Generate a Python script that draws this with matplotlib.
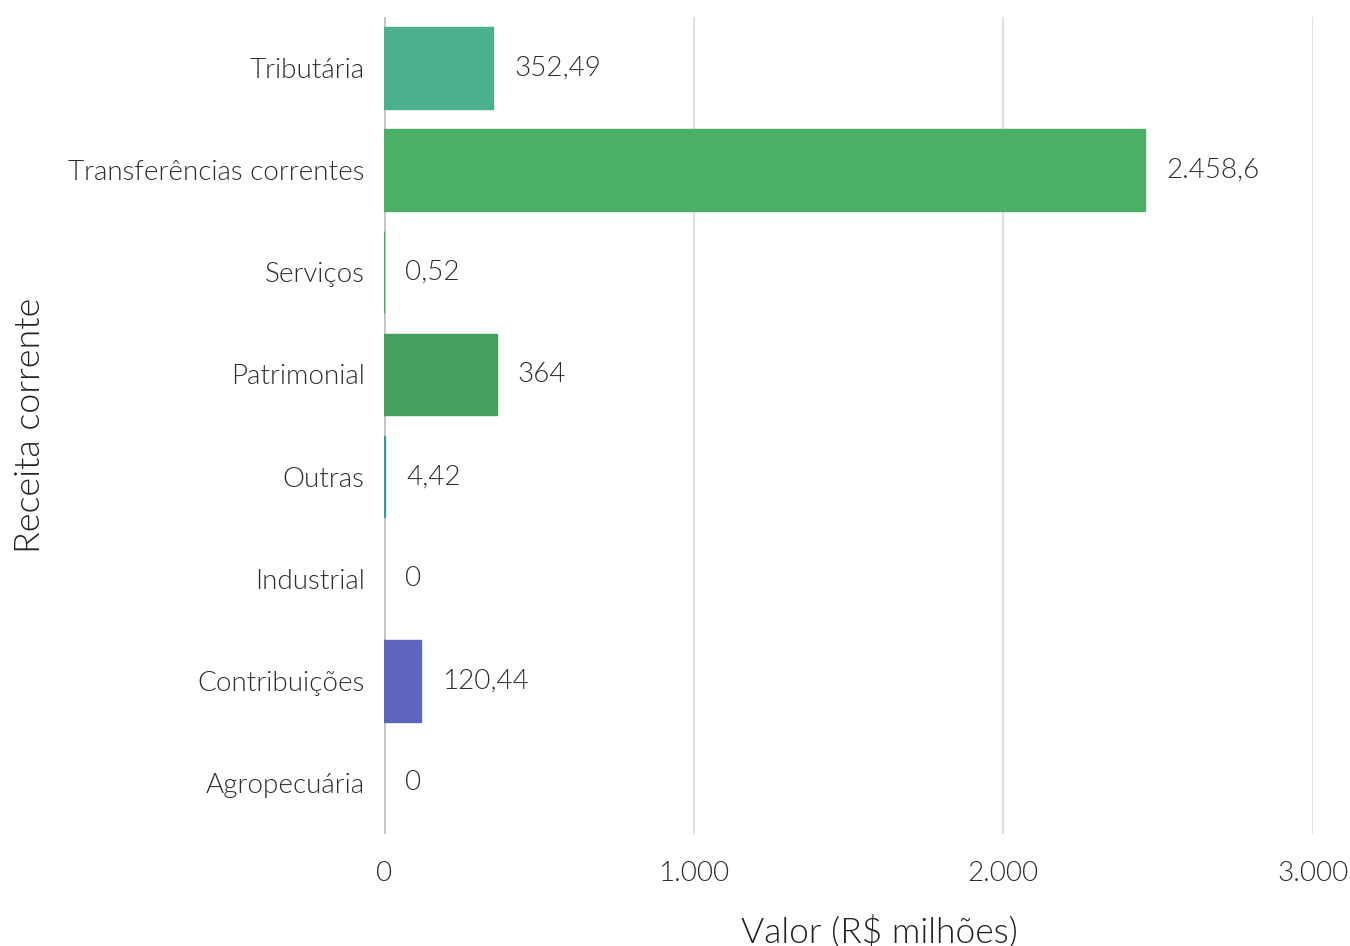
import matplotlib
matplotlib.use('Agg')
import matplotlib.pyplot as plt

plt.rcParams['font.family'] = ['Lato', 'DejaVu Sans']
plt.rcParams['font.weight'] = 300

# data
categorias = ['Tributária', 'Transferências correntes', 'Serviços', 'Patrimonial',
              'Outras', 'Industrial', 'Contribuições', 'Agropecuária']
valores = [352.49, 2458.6, 0.52, 364, 4.42, 0, 120.44, 0]
rotulos = ['352,49', '2.458,6', '0,52', '364', '4,42', '0', '120,44', '0']
cores = ['#4bb08b', '#4caf67', '#4caf67', '#44a05e', '#3a9a98', '#c4c4c4', '#5c65b9', '#c4c4c4']
ticks = [0, 1000, 2000, 3000]
tick_labels = ['0', '1.000', '2.000', '3.000']

fig = plt.figure(figsize=(13.5, 9.46), dpi=100)
ax = fig.add_axes([0.2845, 0.1184, 0.688, 0.8636])

for t in ticks[1:]:
    ax.axvline(t, color='#dddddd', lw=1.3, zorder=1)
ax.axvline(0, color='#c4c4c4', lw=2, zorder=2)

y = list(range(len(categorias)))
ax.barh(y, valores, height=0.8, color=cores, edgecolor=cores, linewidth=1, zorder=3)
for yi, v, lab in zip(y, valores, rotulos):
    ax.annotate(lab, (v, yi), xytext=(15, 0), textcoords='offset points',
                va='center', ha='left', fontsize=20, color='#2e2e2e', fontweight=300)

ax.set_ylim(len(categorias) - 0.5, -0.5)
ax.set_xlim(0, 3000)
ax.set_yticks(y)
ax.set_yticklabels(categorias, fontsize=20, color='#2e2e2e')
ax.set_xticks(ticks)
ax.set_xticklabels(tick_labels, fontsize=20, color='#2e2e2e')
ax.tick_params(axis='y', length=0, pad=14)
ax.tick_params(axis='x', length=0, pad=19.5)

for s in ax.spines.values():
    s.set_visible(False)

ax.set_xlabel('Valor (R$ milhões)', fontsize=25.5, color='#222222', fontweight=300)
ax.set_ylabel('Receita corrente', fontsize=25.8, color='#222222', fontweight=300)
ax.xaxis.set_label_coords(0.533, -0.099)
ax.yaxis.set_label_coords(-0.364, 0.5)

fig.savefig('out.png', dpi=100)
